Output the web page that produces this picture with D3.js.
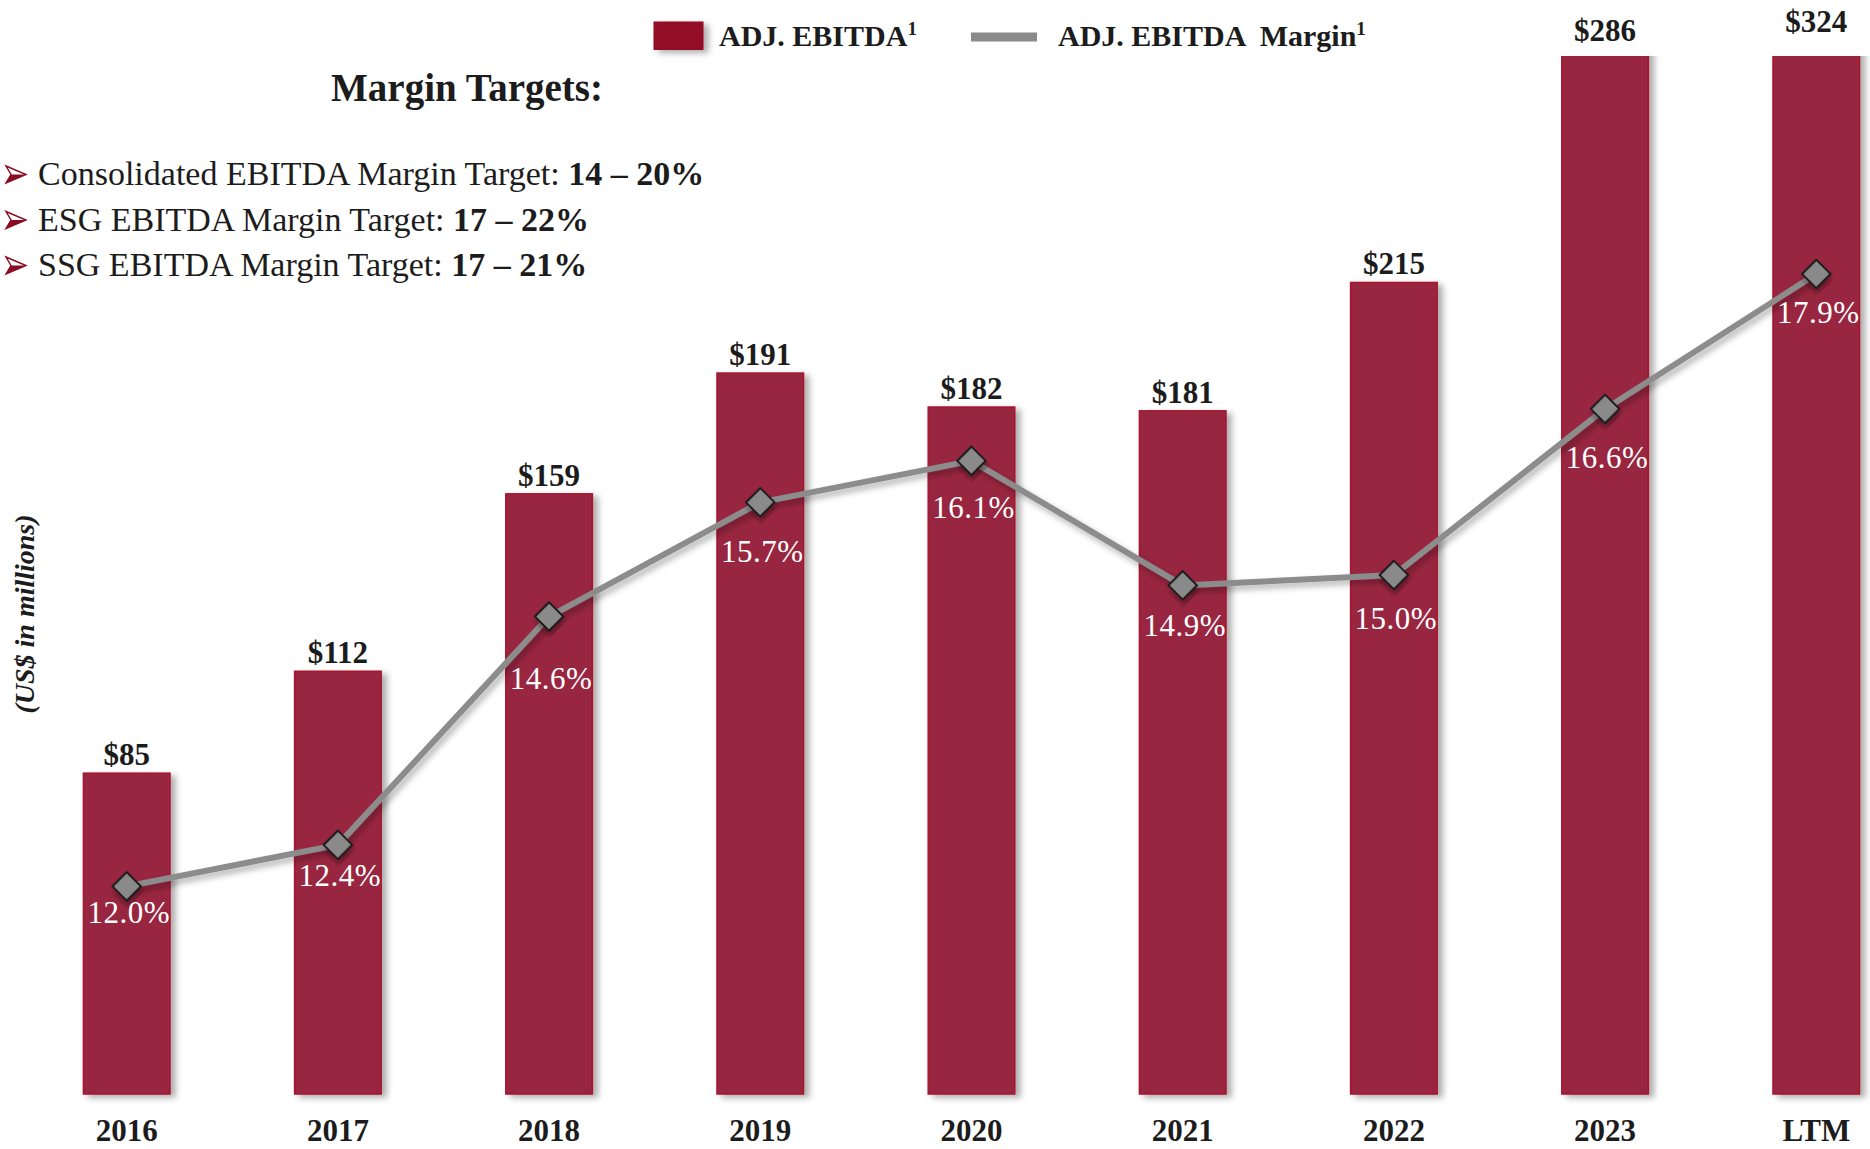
<!DOCTYPE html>
<html>
<head>
<meta charset="utf-8">
<script src="https://cdn.jsdelivr.net/npm/d3@7"></script>
<style>
  body { margin: 0; background: #ffffff; }
  svg { display: block; font-family: "Liberation Serif", "Times New Roman", serif; }
  text { white-space: pre; }
</style>
</head>
<body>
<svg id="chart" width="1870" height="1149"></svg>
<script>
// ---- data ----
const categories = ["2016", "2017", "2018", "2019", "2020", "2021", "2022", "2023", "LTM"];
const ebitda = [85, 112, 159, 191, 182, 181, 215, 286, 324];          // US$ millions
const marginPct = [12.0, 12.4, 14.6, 15.7, 16.1, 14.9, 15.0, 16.6, 17.9]; // %
const targetNames = ["Consolidated EBITDA Margin Target: ", "ESG EBITDA Margin Target: ", "SSG EBITDA Margin Target: "];
const targetRanges = ["14 – 20%", "17 – 22%", "17 – 21%"];
const legendNames = ["ADJ. EBITDA", "ADJ. EBITDA  Margin"];

// ---- layout ----
const W = 1870, H = 1149;
const plotTop = 56, plotBottom = 1094;
const marginLabelDy = [37, 41, 72, 60, 57, 51, 54, 59, 49]; // label offsets below markers
const clippedLabelY = [41, 32];                              // labels above bars that run past the top

const BAR = "#99283f", BAR_EDGE = "#a8132f", LEGEND_RED = "#930d27";
const LINE = "#8c8c8c", INK = "#1c1c1c";

const svg = d3.select("#chart");
const defs = svg.append("defs");

const shadow = defs.append("filter").attr("id", "shadow")
  .attr("x", "-20%").attr("y", "-20%").attr("width", "150%").attr("height", "150%");
shadow.append("feDropShadow").attr("dx", 5).attr("dy", 3).attr("stdDeviation", 3)
  .attr("flood-color", "#000").attr("flood-opacity", 0.32);

const lineShadow = defs.append("filter").attr("id", "lineShadow")
  .attr("x", "-10%").attr("y", "-10%").attr("width", "120%").attr("height", "130%");
lineShadow.append("feDropShadow").attr("dx", 3).attr("dy", 4).attr("stdDeviation", 3)
  .attr("flood-color", "#000").attr("flood-opacity", 0.3);

defs.append("clipPath").attr("id", "plotClip")
  .append("rect").attr("x", 0).attr("y", plotTop).attr("width", W).attr("height", H - plotTop);

// ---- scales ----
const x = d3.scaleBand().domain(categories).range([21.1, 1921.9])
  .paddingInner(0.59).paddingOuter(0.295);
const cx = c => x(c) + x.bandwidth() / 2;
const yL = d3.scaleLinear().domain([0, 275]).range([plotBottom, plotTop]);
const yR = d3.scaleLinear().domain([10, 20]).range([plotBottom, plotTop]);

// ---- bars ----
const barG = svg.append("g").attr("clip-path", "url(#plotClip)");
barG.selectAll("rect.bar").data(categories).join("rect")
  .attr("class", "bar")
  .attr("x", c => x(c))
  .attr("width", x.bandwidth())
  .attr("y", (c, i) => yL(ebitda[i]))
  .attr("height", (c, i) => yL(0) - yL(ebitda[i]))
  .attr("fill", BAR)
  .attr("stroke", BAR_EDGE)
  .attr("stroke-width", 1.5)
  .attr("filter", "url(#shadow)");

// bar value labels (bars taller than the plot get their label just above the top edge)
let clippedIdx = 0;
const valueLabelY = ebitda.map(v => {
  const yy = yL(v) - 8;
  return yy < plotTop ? clippedLabelY[clippedIdx++] : yy;
});
svg.append("g").selectAll("text").data(categories).join("text")
  .attr("x", c => cx(c))
  .attr("y", (c, i) => valueLabelY[i])
  .attr("text-anchor", "middle")
  .attr("font-size", 31).attr("font-weight", "bold").attr("fill", INK)
  .text((c, i) => "$" + ebitda[i]);

// category axis labels
const xAxis = d3.axisBottom(x).tickSize(0).tickPadding(0);
const axisG = svg.append("g").attr("transform", `translate(0,${plotBottom})`).call(xAxis);
axisG.select(".domain").remove();
axisG.selectAll("text")
  .attr("y", 47).attr("dy", null)
  .attr("font-family", "Liberation Serif, serif")
  .attr("font-size", 31).attr("font-weight", "bold").attr("fill", INK);

// ---- margin line ----
const lineGen = d3.line().x((c, i) => cx(c)).y((c, i) => yR(marginPct[i]));
svg.append("path").datum(categories)
  .attr("d", lineGen)
  .attr("fill", "none").attr("stroke", LINE).attr("stroke-width", 6)
  .attr("stroke-linejoin", "round")
  .attr("filter", "url(#lineShadow)");

const diamond = d3.symbol().type(d3.symbolSquare).size(400);
svg.append("g").selectAll("path").data(categories).join("path")
  .attr("d", diamond)
  .attr("transform", (c, i) => `translate(${cx(c)},${yR(marginPct[i])}) rotate(45)`)
  .attr("fill", "#8a8a8a").attr("stroke", "#1e1e1e").attr("stroke-width", 2.2)
  .attr("filter", "url(#shadow)");

svg.append("g").selectAll("text").data(categories).join("text")
  .attr("x", c => cx(c) + 2)
  .attr("y", (c, i) => yR(marginPct[i]) + marginLabelDy[i])
  .attr("text-anchor", "middle")
  .attr("font-size", 31).attr("fill", "#ffffff")
  .attr("letter-spacing", 0.5)
  .text((c, i) => marginPct[i].toFixed(1) + "%");

// ---- y-axis title ----
svg.append("text")
  .attr("transform", "translate(24,614) rotate(-90)")
  .attr("text-anchor", "middle").attr("dominant-baseline", "central")
  .attr("font-size", 28).attr("font-weight", "bold").attr("font-style", "italic")
  .attr("fill", INK)
  .text("(US$ in millions)");

// ---- legend ----
const leg = svg.append("g");
leg.append("rect").attr("x", 653.5).attr("y", 21.5).attr("width", 50).attr("height", 28.5)
  .attr("fill", LEGEND_RED).attr("filter", "url(#shadow)");
leg.append("line").attr("x1", 971).attr("x2", 1037).attr("y1", 37).attr("y2", 37)
  .attr("stroke", "#8a8a8a").attr("stroke-width", 9);
[719, 1058].forEach((lx, i) => {
  const t = leg.append("text").attr("x", lx).attr("y", 46)
    .attr("font-size", 30).attr("font-weight", "bold").attr("fill", INK);
  t.append("tspan").text(legendNames[i]);
  t.append("tspan").attr("font-size", 19).attr("dy", -11).text("1");
});

// ---- margin targets box ----
svg.append("text").attr("x", 467).attr("y", 101).attr("text-anchor", "middle")
  .attr("font-size", 39).attr("font-weight", "bold").attr("fill", INK)
  .text("Margin Targets:");

const tg = svg.append("g").selectAll("g").data(targetNames).join("g")
  .attr("transform", (d, i) => `translate(0,${185 + i * 45.5})`);
// arrowhead bullets
tg.append("path")
  .attr("d", "M6,-19 L26,-10.5 L6,-2 L11,-10.5 Z")
  .attr("fill", "#ffffff").attr("stroke", "#8b0a24").attr("stroke-width", 1.4)
  .attr("stroke-linejoin", "miter");
tg.append("path")
  .attr("d", "M11,-10.5 L26,-10.5 L6,-2 Z")
  .attr("fill", "#8b0a24");
const tt = tg.append("text").attr("x", 38).attr("y", 0)
  .attr("font-size", 34).attr("fill", INK);
tt.append("tspan").text(d => d);
tt.append("tspan").attr("font-weight", "bold").text((d, i) => targetRanges[i]);
</script>
</body>
</html>
